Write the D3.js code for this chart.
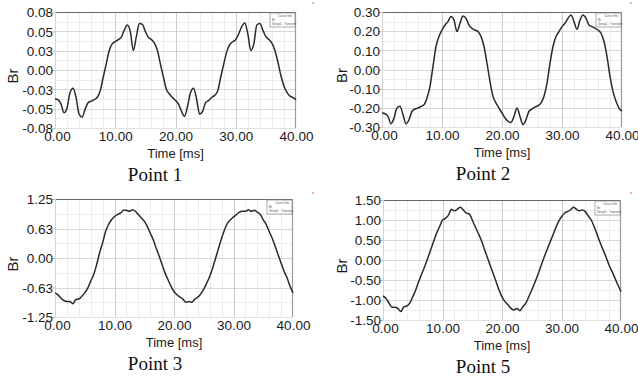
<!DOCTYPE html>
<html><head><meta charset="utf-8">
<script src="https://cdn.jsdelivr.net/npm/d3@7"></script>
<style>
html,body{margin:0;padding:0;background:#fff;}
svg{display:block;}
</style></head>
<body>
<svg id="c" width="638" height="380"></svg>
<script>
const times = [0,0.5,1,1.5,2,2.5,3,3.5,4,4.5,5,5.5,6,6.5,7,7.5,8,8.5,9,9.5,10,10.5,11,11.5,12,12.5,13,13.5,14,14.5,15,15.5,16,16.5,17,17.5,18,18.5,19,19.5,20,20.5,21,21.5,22,22.5,23,23.5,24,24.5,25,25.5,26,26.5,27,27.5,28,28.5,29,29.5,30,30.5,31,31.5,32,32.5,33,33.5,34,34.5,35,35.5,36,36.5,37,37.5,38,38.5,39,39.5,40];

const point1Br = [-0.040,-0.041,-0.047,-0.059,-0.052,-0.031,-0.025,-0.038,-0.061,-0.065,-0.054,-0.045,-0.043,-0.041,-0.038,-0.029,-0.010,0.008,0.027,0.036,0.039,0.042,0.045,0.055,0.062,0.053,0.027,0.046,0.064,0.063,0.053,0.045,0.042,0.037,0.027,0.008,-0.010,-0.027,-0.033,-0.038,-0.042,-0.047,-0.057,-0.064,-0.050,-0.031,-0.025,-0.040,-0.061,-0.057,-0.045,-0.042,-0.038,-0.035,-0.029,-0.010,0.008,0.025,0.035,0.039,0.042,0.050,0.060,0.065,0.050,0.027,0.036,0.062,0.064,0.055,0.046,0.042,0.037,0.027,0.011,-0.008,-0.022,-0.031,-0.036,-0.038,-0.041];

const point2Br = [-0.227,-0.231,-0.245,-0.283,-0.253,-0.201,-0.192,-0.236,-0.283,-0.262,-0.218,-0.206,-0.201,-0.193,-0.184,-0.149,-0.088,0.016,0.120,0.172,0.206,0.232,0.250,0.276,0.258,0.198,0.241,0.279,0.267,0.232,0.215,0.206,0.198,0.172,0.120,0.033,-0.062,-0.140,-0.175,-0.201,-0.227,-0.253,-0.270,-0.276,-0.245,-0.201,-0.245,-0.288,-0.262,-0.218,-0.206,-0.196,-0.189,-0.175,-0.140,-0.071,0.033,0.120,0.172,0.198,0.224,0.241,0.267,0.284,0.250,0.210,0.258,0.284,0.267,0.232,0.224,0.215,0.206,0.189,0.146,0.068,-0.036,-0.114,-0.166,-0.201,-0.218];

const point3Br = [-0.74,-0.78,-0.85,-0.90,-0.92,-0.92,-0.97,-0.88,-0.87,-0.81,-0.74,-0.64,-0.49,-0.35,-0.14,0.11,0.32,0.56,0.71,0.81,0.88,0.92,0.95,1.01,1.01,0.99,1.02,0.99,0.92,0.85,0.78,0.67,0.53,0.39,0.21,0.04,-0.14,-0.32,-0.46,-0.60,-0.71,-0.78,-0.83,-0.87,-0.94,-0.92,-0.94,-0.87,-0.83,-0.76,-0.66,-0.53,-0.39,-0.21,0.00,0.21,0.42,0.60,0.74,0.81,0.87,0.92,0.97,0.99,0.99,1.02,0.99,1.01,0.97,0.92,0.81,0.71,0.56,0.42,0.25,0.07,-0.11,-0.28,-0.42,-0.60,-0.74];

const point5Br = [-0.90,-0.96,-1.07,-1.18,-1.18,-1.21,-1.29,-1.17,-1.15,-1.08,-0.92,-0.75,-0.54,-0.35,-0.17,0.04,0.25,0.46,0.67,0.83,1.00,1.04,1.12,1.27,1.23,1.27,1.32,1.25,1.17,1.15,1.00,0.83,0.67,0.50,0.29,0.08,-0.13,-0.33,-0.54,-0.75,-0.92,-1.04,-1.12,-1.21,-1.25,-1.21,-1.27,-1.17,-1.08,-0.92,-0.75,-0.57,-0.38,-0.17,0.04,0.23,0.42,0.60,0.79,0.96,1.08,1.17,1.21,1.25,1.32,1.27,1.23,1.25,1.21,1.10,1.00,0.83,0.63,0.43,0.25,0.07,-0.13,-0.29,-0.46,-0.63,-0.79];

const xTickValues = [0,10,20,30,40];
const xTickLabels = ["0.00","10.00","20.00","30.00","40.00"];

const p1TickValues = [0.08,0.0533,0.0267,0,-0.0267,-0.0533,-0.08];
const p1TickLabels = ["0.08","0.05","0.03","0.00","-0.03","-0.05","-0.08"];
const p2TickValues = [0.30,0.20,0.10,0,-0.10,-0.20,-0.30];
const p2TickLabels = ["0.30","0.20","0.10","0.00","-0.10","-0.20","-0.30"];
const p3TickValues = [1.25,0.625,0,-0.625,-1.25];
const p3TickLabels = ["1.25","0.63","0.00","-0.63","-1.25"];
const p5TickValues = [1.5,1.0,0.5,0,-0.5,-1.0,-1.5];
const p5TickLabels = ["1.50","1.00","0.50","0.00","-0.50","-1.00","-1.50"];

const captions = ["Point 1","Point 2","Point 3","Point 5"];
const xTitle = "Time [ms]";
const yTitle = "Br";
const legendLines = ["Curve Info","Br","Setup1 : Transient"];

const panels = [
  {vals: point1Br, dom:[-0.08,0.08], tv:p1TickValues, tl:p1TickLabels, cap:captions[0],
   L:55, R:296, T:12, B:128, ox:0, oy:0, brx:18, capx:155},
  {vals: point2Br, dom:[-0.30,0.30], tv:p2TickValues, tl:p2TickLabels, cap:captions[1],
   L:382, R:622, T:12, B:127, ox:318, oy:0, brx:347, capx:483},
  {vals: point3Br, dom:[-1.25,1.25], tv:p3TickValues, tl:p3TickLabels, cap:captions[2],
   L:55, R:293, T:199, B:317, ox:0, oy:190, brx:18, capx:155},
  {vals: point5Br, dom:[-1.5,1.5], tv:p5TickValues, tl:p5TickLabels, cap:captions[3],
   L:383, R:621, T:200, B:320, ox:318, oy:190, brx:347, capx:483}
];

const svg = d3.select("#c");
const sans = "'Liberation Sans', Arial, sans-serif";
const serif = "'Liberation Serif', 'Times New Roman', serif";

panels.forEach(p => {
  const x = d3.scaleLinear().domain([0,40]).range([p.L,p.R]);
  const y = d3.scaleLinear().domain(p.dom).range([p.B,p.T]);
  const g = svg.append("g");

  // minor vertical grid
  const vMinor = [2,4,6,8,12,14,16,18,22,24,26,28,32,34,36,38];
  g.selectAll(".vm").data(vMinor).enter().append("line")
    .attr("x1",d=>Math.round(x(d))+0.5).attr("x2",d=>Math.round(x(d))+0.5).attr("y1",p.T).attr("y2",p.B)
    .attr("stroke","#ededed").attr("stroke-width",1);
  // horizontal grid (ticks + midpoints)
  const hs = [];
  for (let i=0;i<p.tv.length;i++){ hs.push(p.tv[i]); if(i<p.tv.length-1) hs.push((p.tv[i]+p.tv[i+1])/2); }
  g.selectAll(".hg").data(hs).enter().append("line")
    .attr("x1",p.L).attr("x2",p.R).attr("y1",d=>Math.round(y(d))+0.5).attr("y2",d=>Math.round(y(d))+0.5)
    .attr("stroke",(d,i)=> i%2===0 ? "#d8d8d8" : "#ebebeb").attr("stroke-width",1);
  // major vertical grid
  g.selectAll(".vg").data([10,20,30]).enter().append("line")
    .attr("x1",d=>Math.round(x(d))+0.5).attr("x2",d=>Math.round(x(d))+0.5).attr("y1",p.T).attr("y2",p.B)
    .attr("stroke","#cccccc").attr("stroke-width",1);

  // frame
  g.append("line").attr("x1",p.L).attr("x2",p.R).attr("y1",p.T+0.5).attr("y2",p.T+0.5).attr("stroke","#666").attr("stroke-width",1.2);
  g.append("line").attr("x1",p.R-0.5).attr("x2",p.R-0.5).attr("y1",p.T).attr("y2",p.B).attr("stroke","#9a9a9a").attr("stroke-width",1.2);
  g.append("line").attr("x1",p.L+0.5).attr("x2",p.L+0.5).attr("y1",p.T).attr("y2",p.B).attr("stroke","#d5d5d5");
  g.append("line").attr("x1",p.L).attr("x2",p.R).attr("y1",p.B+0.5).attr("y2",p.B+0.5).attr("stroke","#e0e0e0");

  // y axis
  const ya = d3.axisLeft(y).tickValues(p.tv).tickFormat((d,i)=>p.tl[i]).tickSize(3).tickPadding(0);
  const yg = g.append("g").attr("transform",`translate(${p.L},0)`).call(ya);
  yg.select(".domain").remove();
  yg.selectAll("line").attr("stroke","#bbb");
  yg.selectAll("text").attr("font-family",sans).attr("font-size",13.5).attr("fill","#1a1a1a").attr("x",-2).attr("dy","0.35em");

  // x axis
  const xa = d3.axisBottom(x).tickValues(xTickValues).tickFormat((d,i)=>xTickLabels[i]).tickSize(0).tickPadding(0);
  const xg = g.append("g").attr("transform",`translate(0,${p.B})`).call(xa);
  xg.select(".domain").remove();
  xg.selectAll("text").attr("font-family",sans).attr("font-size",13.5).attr("fill","#1a1a1a").attr("y",0).attr("dy",12.5)
    .attr("dx",(d,i)=> i===0 ? 2 : 0);

  // axis titles
  g.append("text").attr("x",(p.L+p.R)/2).attr("y",p.B+30).attr("text-anchor","middle")
    .attr("font-family",sans).attr("font-size",13).attr("fill","#1a1a1a").text(xTitle);
  g.append("text").attr("transform",`translate(${p.brx},${(p.T+p.B)/2+6}) rotate(-90)`)
    .attr("text-anchor","middle").attr("font-family",sans).attr("font-size",15).attr("fill","#1a1a1a").text(yTitle);

  // caption
  g.append("text").attr("x",p.capx).attr("y",p.B+53).attr("text-anchor","middle")
    .attr("font-family",serif).attr("font-size",19).attr("fill","#111").text(p.cap);

  // curve
  const line = d3.line().x((d,i)=>x(times[i])).y(d=>y(d)).curve(d3.curveMonotoneX);
  g.append("path").datum(p.vals).attr("d",line).attr("fill","none")
    .attr("stroke","#2a2a2a").attr("stroke-width",1.5).attr("stroke-linejoin","round");

  // legend box
  const lw = 25, lh = 14;
  const lx = p.R - lw - 1, ly = p.T + 1;
  g.append("rect").attr("x",lx).attr("y",ly).attr("width",lw).attr("height",lh)
    .attr("fill","#fff").attr("stroke","#888").attr("stroke-width",0.7);
  g.selectAll(".lg").data(legendLines).enter().append("text")
    .attr("x",(d,i)=> i===0 ? lx+lw-3 : lx+2).attr("y",(d,i)=>ly+4+i*4)
    .attr("text-anchor",(d,i)=> i===0 ? "end" : "start")
    .attr("font-family",sans).attr("font-size",3).attr("fill","#555").text(d=>d);

  // small red marks
  g.append("circle").attr("cx",p.ox+313).attr("cy",p.oy+3).attr("r",0.8).attr("fill","#e04040");
});
</script>
</body></html>
